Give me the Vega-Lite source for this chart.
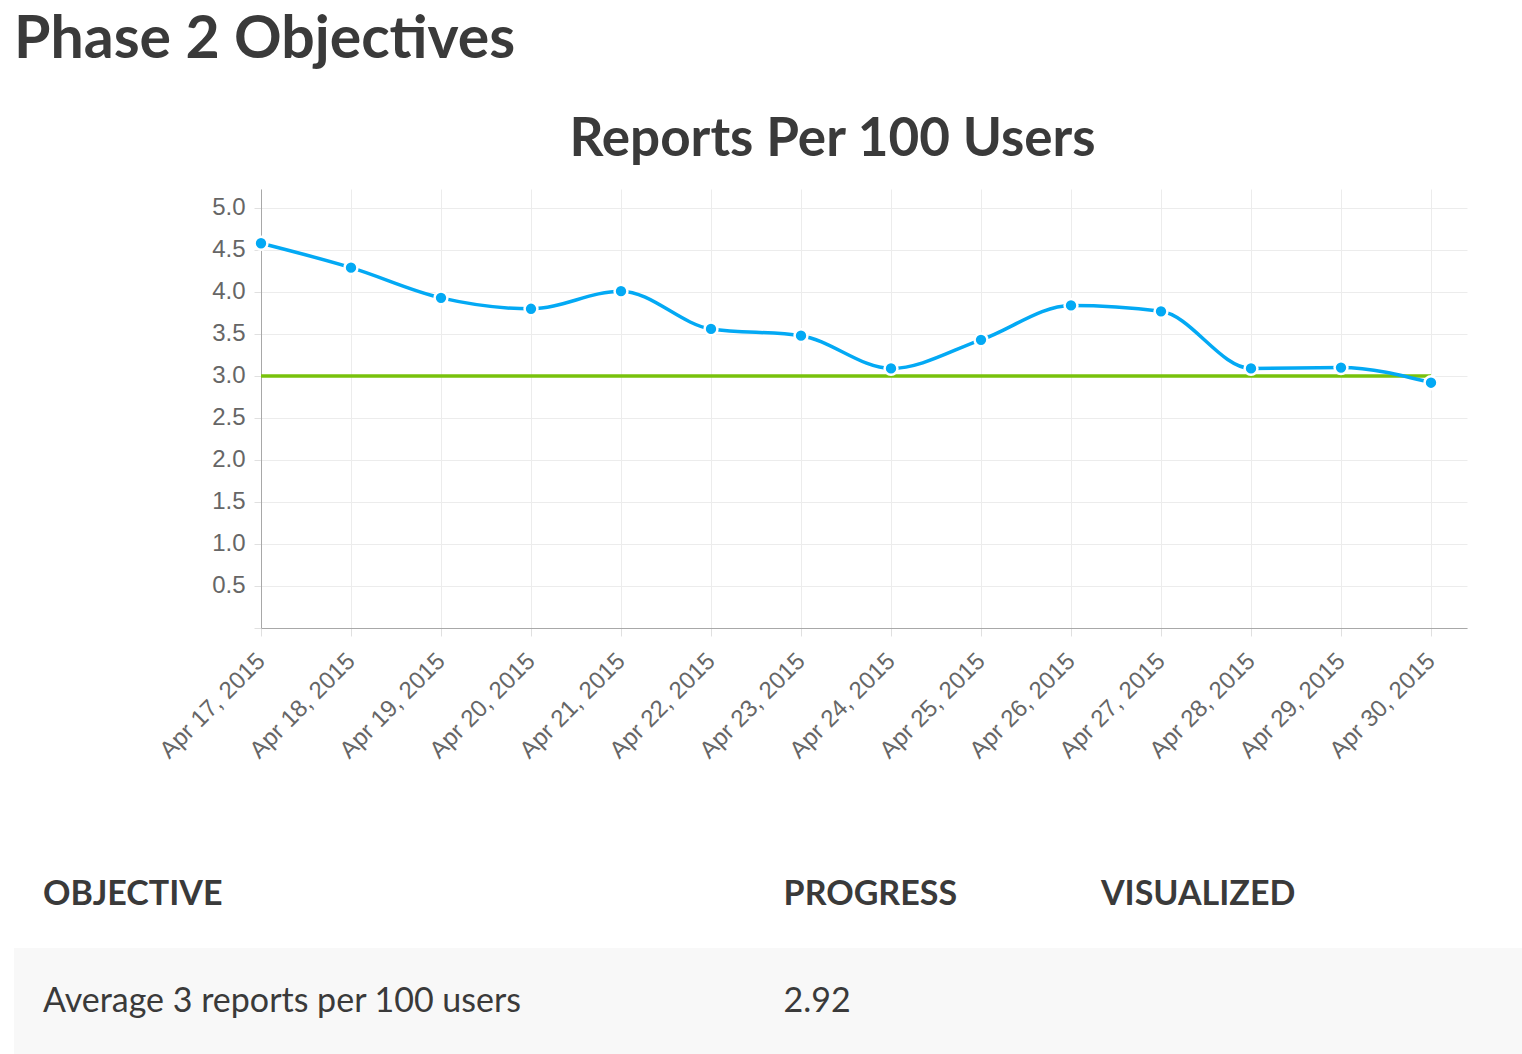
{
  "$schema": "https://vega.github.io/schema/vega-lite/v6.json",
  "background": "white",
  "padding": {"left": 14, "top": 11, "right": 0, "bottom": 0},
  "title": {"text": "Phase 2 Objectives", "anchor": "start", "fontSize": 59, "font": "Lato", "fontWeight": "bold", "color": "#3a3a3a", "offset": 44},
  "config": {
    "view": {"stroke": null},
    "axis": {"labelFont": "Liberation Sans", "labelColor": "#666666", "gridColor": "#ececec", "tickColor": "#e0e0e0", "domainColor": "#a8a8a8", "title": null}
  },
  "spacing": 78,
  "datasets": {
    "reports": [
      {"date": "2015-04-17T00:00:00", "value": 4.58},
      {"date": "2015-04-18T00:00:00", "value": 4.29},
      {"date": "2015-04-19T00:00:00", "value": 3.93},
      {"date": "2015-04-20T00:00:00", "value": 3.80},
      {"date": "2015-04-21T00:00:00", "value": 4.01},
      {"date": "2015-04-22T00:00:00", "value": 3.56},
      {"date": "2015-04-23T00:00:00", "value": 3.48},
      {"date": "2015-04-24T00:00:00", "value": 3.09},
      {"date": "2015-04-25T00:00:00", "value": 3.43},
      {"date": "2015-04-26T00:00:00", "value": 3.84},
      {"date": "2015-04-27T00:00:00", "value": 3.77},
      {"date": "2015-04-28T00:00:00", "value": 3.09},
      {"date": "2015-04-29T00:00:00", "value": 3.10},
      {"date": "2015-04-30T00:00:00", "value": 2.92}
    ],
    "target": [
      {"date": "2015-04-17T00:00:00", "value": 3},
      {"date": "2015-04-30T00:00:00", "value": 3}
    ],
    "table": [
      {"row": "header", "col": "OBJECTIVE", "text": "OBJECTIVE"},
      {"row": "header", "col": "PROGRESS", "text": "PROGRESS"},
      {"row": "header", "col": "VISUALIZED", "text": "VISUALIZED"},
      {"row": "body", "col": "OBJECTIVE", "text": "Average 3 reports per 100 users"},
      {"row": "body", "col": "PROGRESS", "text": "2.92"},
      {"row": "body", "col": "VISUALIZED", "text": ""}
    ]
  },
  "vconcat": [
    {
      "width": 1453,
      "height": 439,
      "title": {"text": "Reports Per 100 Users", "fontSize": 53, "font": "Lato", "fontWeight": "bold", "color": "#3a3a3a", "dx": 92, "offset": 22},
      "encoding": {
        "x": {
          "field": "date", "type": "temporal",
          "scale": {"domain": [{"year": 2015, "month": 4, "date": 17}, {"year": 2015, "month": 4, "date": 30, "hours": 9, "minutes": 36}], "range": [247, 1453], "nice": false},
          "axis": {"format": "%b %-d, %Y", "labelAngle": -45, "labelAlign": "right", "labelBaseline": "middle", "labelFontSize": 24, "tickCount": {"interval": "day", "step": 1}, "tickSize": 8, "labelPadding": 21, "labelOverlap": false, "labelBound": false, "labelFlush": false}
        },
        "y": {
          "field": "value", "type": "quantitative",
          "scale": {"domain": [0, 5.226], "nice": false, "zero": true},
          "axis": {"values": [0, 0.5, 1, 1.5, 2, 2.5, 3, 3.5, 4, 4.5, 5], "format": ".1f", "labelExpr": "datum.value === 0 ? '' : datum.label", "labelFontSize": 24, "tickSize": 7, "labelPadding": 9, "offset": -247}
        }
      },
      "layer": [
        {"data": {"name": "target"}, "mark": {"type": "line", "color": "#78c20c", "strokeWidth": 3.5}},
        {"data": {"name": "reports"}, "mark": {"type": "line", "interpolate": "monotone", "color": "#03a9f4", "strokeWidth": 3.5}},
        {"data": {"name": "reports"}, "mark": {"type": "circle", "size": 165, "fill": "#03a9f4", "fillOpacity": 1, "stroke": "white", "strokeWidth": 2.5}}
      ]
    },
    {
      "width": 1508,
      "height": 214,
      "data": {"name": "table"},
      "encoding": {
        "y": {"field": "row", "type": "nominal", "scale": {"type": "band", "domain": ["header", "body"], "paddingInner": 0, "paddingOuter": 0}, "axis": null}
      },
      "layer": [
        {
          "mark": {"type": "rect"},
          "encoding": {
            "x": {"value": 0}, "x2": {"value": "width"},
            "fill": {"field": "row", "type": "nominal", "scale": {"domain": ["header", "body"], "range": ["#ffffff", "#f8f8f8"]}, "legend": null}
          }
        },
        {
          "transform": [{"filter": "datum.row === 'header'"}],
          "mark": {"type": "text", "align": "left", "baseline": "middle", "font": "Lato", "fontWeight": "bold", "fontSize": 34, "color": "#3a3a3a"},
          "encoding": {
            "x": {"field": "col", "type": "nominal", "scale": {"type": "point", "padding": 0, "domain": ["OBJECTIVE", "c1", "c2", "c3", "c4", "c5", "c6", "PROGRESS", "c8", "c9", "VISUALIZED"], "range": [29, 1087]}, "axis": null},
            "text": {"field": "text"}
          }
        },
        {
          "transform": [{"filter": "datum.row === 'body'"}],
          "mark": {"type": "text", "align": "left", "baseline": "middle", "font": "Lato", "fontSize": 34, "color": "#3a3a3a"},
          "encoding": {
            "x": {"field": "col", "type": "nominal", "scale": {"type": "point", "padding": 0, "domain": ["OBJECTIVE", "c1", "c2", "c3", "c4", "c5", "c6", "PROGRESS", "c8", "c9", "VISUALIZED"], "range": [29, 1087]}, "axis": null},
            "text": {"field": "text"}
          }
        }
      ]
    }
  ]
}
